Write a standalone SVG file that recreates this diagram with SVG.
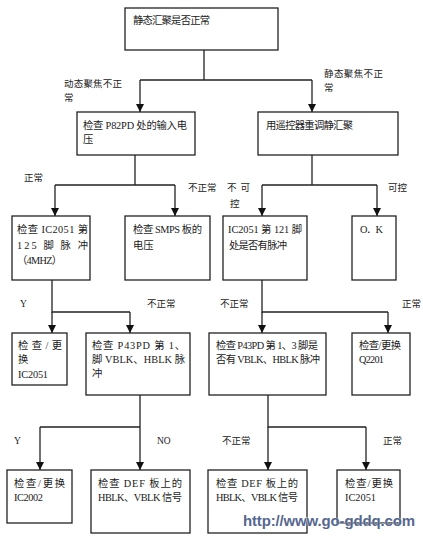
<svg xmlns="http://www.w3.org/2000/svg" width="423" height="545" viewBox="0 0 423 545">
<defs>
<marker id="ah" markerUnits="userSpaceOnUse" markerWidth="8" markerHeight="9" refX="8" refY="4" orient="auto" viewBox="0 0 8 8">
<path d="M0,0 L8,4 L0,8 z" fill="#111"/>
</marker>
<style>
.box{fill:#fff;stroke:#222;stroke-width:1.3}
.t{font-family:"Liberation Serif","Noto Sans CJK SC",serif;font-size:10.3px;fill:#1a1a1a}
.l{font-family:"Liberation Serif","Noto Sans CJK SC",serif;font-size:9.5px;fill:#222}
.c{fill:none;stroke:#222;stroke-width:1.3}
.a{marker-end:url(#ah)}
.wm{font-family:"Liberation Sans",Arial,sans-serif;font-weight:bold;font-size:15px;fill:#56688f;stroke:#fff;stroke-width:0.6;paint-order:stroke}
</style>
</defs>
<rect width="423" height="545" fill="#fff"/>

<g id="connectors">
<path class="c" d="M204,50 V80 M140,80 H312 M135,155 V185 M55,185 H175 M312,155 V185 M262,185 H377 M52,280 V312 H130 M262,280 V312 H388 M140,395 V427 M40,427 H140 M268,395 V427 H366"/>
<path class="c a" d="M140,80 V112"/>
<path class="c a" d="M312,80 V112"/>
<path class="c a" d="M55,185 V216"/>
<path class="c a" d="M175,185 V216"/>
<path class="c a" d="M262,185 V216"/>
<path class="c a" d="M377,185 V216"/>
<path class="c a" d="M52,312 V333"/>
<path class="c a" d="M130,312 V333"/>
<path class="c a" d="M262,312 V333"/>
<path class="c a" d="M388,312 V333"/>
<path class="c a" d="M40,427 V470"/>
<path class="c a" d="M140,427 V470"/>
<path class="c a" d="M268,427 V470"/>
<path class="c a" d="M366,427 V470"/>
</g>

<g id="labels">
<text class="l" x="64" y="87" textLength="58">动态聚焦不正</text>
<text class="l" x="64" y="101">常</text>
<text class="l" x="324" y="77" textLength="59">静态聚焦不正</text>
<text class="l" x="324" y="91">常</text>
<text class="l" x="24" y="181">正常</text>
<text class="l" x="188" y="191">不正常</text>
<text class="l" x="227" y="191" textLength="23">不 可</text>
<text class="l" x="230" y="207">控</text>
<text class="l" x="388" y="191">可控</text>
<text class="l" x="20" y="307">Y</text>
<text class="l" x="147" y="307">不正常</text>
<text class="l" x="220" y="307">不正常</text>
<text class="l" x="402" y="307">正常</text>
<text class="l" x="14" y="444">Y</text>
<text class="l" x="157" y="444">NO</text>
<text class="l" x="222" y="444">不正常</text>
<text class="l" x="383" y="444">正常</text>
</g>

<g id="n-top">
<rect class="box" x="125" y="8" width="153" height="42"/>
<text class="t" x="133" y="24" textLength="77">静态汇聚是否正常</text>
</g>
<g id="n-p82pd">
<rect class="box" x="77" y="112" width="118" height="43"/>
<text class="t" x="83" y="129" textLength="104">检查 P82PD 处的输入电</text>
<text class="t" x="83" y="143">压</text>
</g>
<g id="n-remote">
<rect class="box" x="258" y="112" width="140" height="43"/>
<text class="t" x="266" y="129" textLength="87">用遥控器重调静汇聚</text>
</g>
<g id="n-ic2051-125">
<rect class="box" x="12" y="216" width="78" height="64"/>
<text class="t" x="17" y="233" textLength="71">检查 IC2051 第</text>
<text class="t" x="17" y="249" textLength="71">125 脚 脉 冲</text>
<text class="t" x="17" y="264" textLength="45">（4MHZ）</text>
</g>
<g id="n-smps">
<rect class="box" x="125" y="216" width="85" height="64"/>
<text class="t" x="133" y="233" textLength="69">检查 SMPS 板的</text>
<text class="t" x="133" y="249">电压</text>
</g>
<g id="n-ic2051-121">
<rect class="box" x="223" y="216" width="84" height="64"/>
<text class="t" x="228" y="233" textLength="74">IC2051 第 121 脚</text>
<text class="t" x="229" y="249" textLength="58">处是否有脉冲</text>
</g>
<g id="n-ok">
<rect class="box" x="352" y="216" width="44" height="64"/>
<text class="t" x="360" y="233" textLength="23">O．K</text>
</g>
<g id="n-replace-ic2051-a">
<rect class="box" x="12" y="333" width="55" height="52"/>
<text class="t" x="18" y="349" textLength="44">检 查 / 更</text>
<text class="t" x="18" y="363">换</text>
<text class="t" x="18" y="378" textLength="30">IC2051</text>
</g>
<g id="n-p43pd-a">
<rect class="box" x="86" y="333" width="104" height="62"/>
<text class="t" x="92" y="349" textLength="93">检查 P43PD 第 1、</text>
<text class="t" x="92" y="363" textLength="93">脚 VBLK、HBLK 脉</text>
<text class="t" x="92" y="377">冲</text>
</g>
<g id="n-p43pd-b">
<rect class="box" x="209" y="333" width="117" height="62"/>
<text class="t" x="216" y="349" textLength="102">检查 P43PD 第 1、3 脚是</text>
<text class="t" x="216" y="363" textLength="104">否有 VBLK、HBLK 脉冲</text>
</g>
<g id="n-q2201">
<rect class="box" x="352" y="333" width="58" height="62"/>
<text class="t" x="359" y="349" textLength="42">检查/更换</text>
<text class="t" x="359" y="363" textLength="25">Q2201</text>
</g>
<g id="n-ic2002">
<rect class="box" x="7" y="470" width="65" height="53"/>
<text class="t" x="14" y="487" textLength="51">检 查 / 更 换</text>
<text class="t" x="14" y="501" textLength="29">IC2002</text>
</g>
<g id="n-def-a">
<rect class="box" x="91" y="470" width="99" height="63"/>
<text class="t" x="98" y="487" textLength="84">检查 DEF 板上的</text>
<text class="t" x="98" y="501" textLength="84">HBLK、VBLK 信号</text>
</g>
<g id="n-def-b">
<rect class="box" x="208" y="470" width="99" height="63"/>
<text class="t" x="216" y="487" textLength="82">检查 DEF 板上的</text>
<text class="t" x="216" y="501" textLength="82">HBLK、VBLK 信号</text>
</g>
<g id="n-replace-ic2051-b">
<rect class="box" x="337" y="470" width="63" height="53"/>
<text class="t" x="345" y="487" textLength="48">检查/更换</text>
<text class="t" x="345" y="501" textLength="31">IC2051</text>
</g>

<text class="wm" x="243" y="526" textLength="172">http://www.go-gddq.com</text>
</svg>
